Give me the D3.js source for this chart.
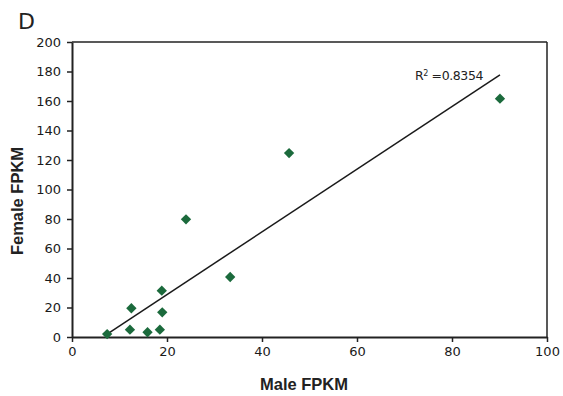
<!DOCTYPE html>
<html><head><meta charset="utf-8">
<script src="https://cdn.jsdelivr.net/npm/d3@7"></script>
<style>body{margin:0;background:#fff}svg{display:block}</style>
</head><body>
<script>
const maleFPKM   = [7.4, 12.2, 12.5, 15.9, 18.5, 19.0, 18.9, 24.0, 33.3, 45.7, 90.1];
const femaleFPKM = [2.0, 5.0, 19.5, 3.2, 5.0, 16.7, 31.4, 79.8, 40.7, 124.7, 161.6];
const xTicks = [0, 20, 40, 60, 80, 100];
const yTicks = [0, 20, 40, 60, 80, 100, 120, 140, 160, 180, 200];
const trendSlope = 2.124;
const trendIntercept = -13.7;
const r2Label = "0.8354";

const W = 563, H = 396;
const svg = d3.select("body").append("svg").attr("width", W).attr("height", H);
const x = d3.scaleLinear().domain([0, 100]).range([72, 547]);
const y = d3.scaleLinear().domain([0, 200]).range([337, 42]);
const font = "DejaVu Sans, sans-serif";

// frame top/right
svg.append("line").attr("x1", 72).attr("x2", 547).attr("y1", 42).attr("y2", 42).attr("stroke", "#222").attr("stroke-width", 1.5);
svg.append("line").attr("x1", 547).attr("x2", 547).attr("y1", 42).attr("y2", 337).attr("stroke", "#222").attr("stroke-width", 1.5);

const xa = svg.append("g").attr("transform", "translate(0,337)")
  .call(d3.axisBottom(x).tickValues(xTicks).tickSize(5).tickSizeOuter(0).tickPadding(5));
const ya = svg.append("g").attr("transform", "translate(72,0)")
  .call(d3.axisLeft(y).tickValues(yTicks).tickSize(5).tickSizeOuter(0).tickPadding(6));
[xa, ya].forEach(a => {
  a.select(".domain").attr("stroke", "#222").attr("stroke-width", 2);
  a.selectAll(".tick line").attr("stroke", "#222").attr("stroke-width", 1.5);
  a.selectAll("text").attr("font-family", font).attr("font-size", 13).attr("fill", "#1a1a1a");
});

// trend line
const xmin = d3.min(maleFPKM), xmax = d3.max(maleFPKM);
svg.append("line")
  .attr("x1", x(xmin)).attr("y1", y(trendSlope * xmin + trendIntercept))
  .attr("x2", x(xmax)).attr("y2", y(trendSlope * xmax + trendIntercept))
  .attr("stroke", "#1a1a1a").attr("stroke-width", 1.5);

// points
const diamond = d3.symbol().type(d3.symbolDiamond2).size(68);
svg.selectAll("path.pt").data(maleFPKM).enter().append("path").attr("class", "pt")
  .attr("d", diamond)
  .attr("transform", (d, i) => `translate(${x(d)},${y(femaleFPKM[i])})`)
  .attr("fill", "#1b6a3c");

// R² label
const t = svg.append("text").attr("x", 415).attr("y", 80)
  .attr("font-family", font).attr("font-size", 12.5).attr("fill", "#222").attr("letter-spacing", -0.4);
t.append("tspan").text("R");
t.append("tspan").attr("font-size", 8).attr("dy", -4).text("2");
t.append("tspan").attr("dy", 4).text(" =" + r2Label);

// titles
svg.append("text").attr("x", 18).attr("y", 29).attr("font-family", font).attr("font-size", 22).attr("fill", "#222").text("D");
svg.append("text").attr("x", 304).attr("y", 390).attr("text-anchor", "middle")
  .attr("font-family", "Liberation Sans, Arial, sans-serif").attr("font-weight", "bold").attr("font-size", 16.5).attr("fill", "#222").text("Male FPKM");
svg.append("text").attr("transform", "translate(23,201) rotate(-90)").attr("text-anchor", "middle")
  .attr("font-family", "Liberation Sans, Arial, sans-serif").attr("font-weight", "bold").attr("font-size", 16.5).attr("fill", "#222").text("Female FPKM");
</script>
</body></html>
